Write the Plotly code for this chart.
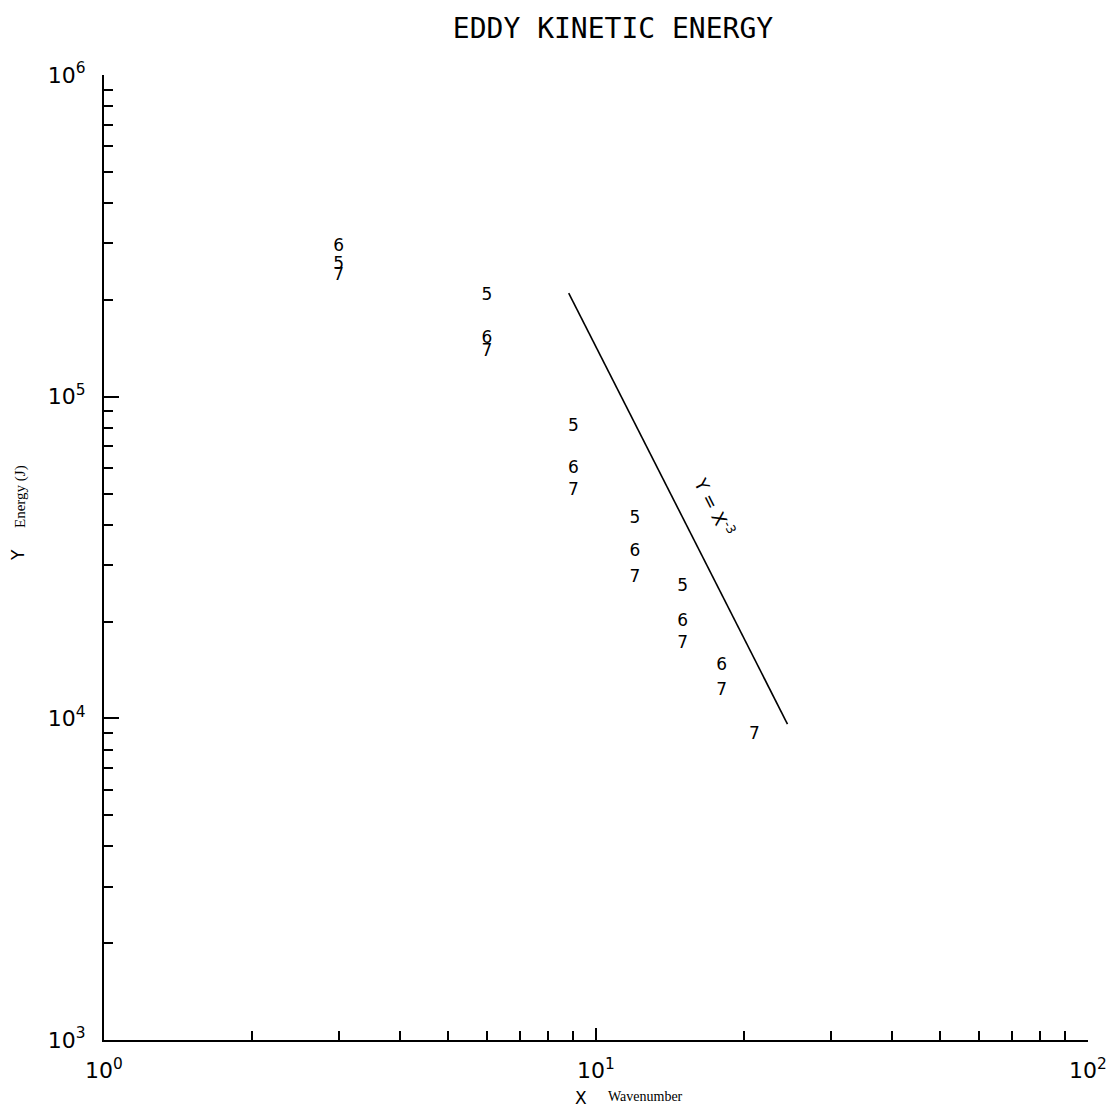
import plotly.graph_objects as go

# Wavenumbers
wavenumber = [3, 6, 9, 12, 15, 18, 21]

# Eddy kinetic energy (J) per series (label)
series_5_x = [3, 6, 9, 12, 15]
series_5_y = [2.58e5, 2.06e5, 8.05e4, 4.17e4, 2.56e4]

series_6_x = [3, 6, 9, 12, 15, 18]
series_6_y = [2.92e5, 1.51e5, 5.96e4, 3.29e4, 2.0e4, 1.46e4]

series_7_x = [3, 6, 9, 12, 15, 18, 21]
series_7_y = [2.37e5, 1.38e5, 5.09e4, 2.73e4, 1.71e4, 1.22e4, 8.88e3]

# Reference slope line Y = X^-3 (endpoints)
line_x = [8.8, 24.5]
line_y = [2.1e5, 9.6e3]

x_tickvals = [1, 10, 100]
x_ticktext = ["10<sup>0</sup>", "10<sup>1</sup>", "10<sup>2</sup>"]
y_tickvals = [1e3, 1e4, 1e5, 1e6]
y_ticktext = ["10<sup>3</sup>", "10<sup>4</sup>", "10<sup>5</sup>", "10<sup>6</sup>"]

x_minor = [m * 10 ** e for e in range(0, 2) for m in range(2, 10)]
y_minor = [m * 10 ** e for e in range(3, 6) for m in range(2, 10)]

digit_font = dict(family="DejaVu Sans", size=17, color="black")

fig = go.Figure()
for label, xs, ys in [("5", series_5_x, series_5_y),
                      ("6", series_6_x, series_6_y),
                      ("7", series_7_x, series_7_y)]:
    fig.add_trace(go.Scatter(x=xs, y=ys, mode="text", text=[label] * len(xs),
                             textposition="middle center", textfont=digit_font,
                             showlegend=False, name=label))

fig.add_trace(go.Scatter(x=line_x, y=line_y, mode="lines",
                         line=dict(color="black", width=1.6), showlegend=False))

fig.add_annotation(x=1.24, y=4.66, xref="x", yref="y", text="Y = X<sup>-3</sup>",
                   showarrow=False, textangle=63, xanchor="center", yanchor="middle",
                   font=dict(family="DejaVu Sans", size=18, color="black"))

fig.update_layout(
    width=1118, height=1110,
    margin=dict(l=104, r=30, t=75, b=70),
    plot_bgcolor="white", paper_bgcolor="white",
    title=dict(text="EDDY KINETIC ENERGY", x=613 / 1118, xanchor="center",
               y=1 - 28 / 1110, yanchor="middle",
               font=dict(family="DejaVu Sans Mono", size=28, color="black")),
    showlegend=False,
)

fig.update_xaxes(type="log", range=[0, 2], showgrid=False, zeroline=False,
                 showline=True, linecolor="black", linewidth=2, mirror=False,
                 tickmode="array", tickvals=x_tickvals, ticktext=x_ticktext,
                 ticks="inside", ticklen=12, tickwidth=1.5, tickcolor="black",
                 tickfont=dict(family="DejaVu Sans", size=22, color="black"),
                 ticklabelstandoff=10,
                 minor=dict(tickmode="array", tickvals=x_minor, ticks="inside",
                            ticklen=9, tickwidth=1.5, tickcolor="black", showgrid=False))

fig.update_yaxes(type="log", range=[3, 6], showgrid=False, zeroline=False,
                 showline=True, linecolor="black", linewidth=2, mirror=False,
                 tickmode="array", tickvals=y_tickvals, ticktext=y_ticktext,
                 ticks="inside", ticklen=15, tickwidth=1.5, tickcolor="black",
                 tickfont=dict(family="DejaVu Sans", size=22, color="black"),
                 ticklabelstandoff=12,
                 minor=dict(tickmode="array", tickvals=y_minor, ticks="inside",
                            ticklen=9, tickwidth=1.5, tickcolor="black", showgrid=False))

# Axis titles
fig.add_annotation(x=(18 - 104) / 984, y=(1040 - 555) / 965, xref="paper", yref="paper",
                   text="Y", showarrow=False, textangle=-90,
                   xanchor="center", yanchor="middle",
                   font=dict(family="DejaVu Sans", size=17, color="black"))
fig.add_annotation(x=(20 - 104) / 984, y=(1040 - 497) / 965, xref="paper", yref="paper",
                   text="Energy (J)", showarrow=False, textangle=-90,
                   xanchor="center", yanchor="middle",
                   font=dict(family="Liberation Serif", size=15, color="black"))
fig.add_annotation(x=(581 - 104) / 984, y=(1040 - 1098) / 965, xref="paper", yref="paper",
                   text="X", showarrow=False, xanchor="center", yanchor="middle",
                   font=dict(family="DejaVu Sans", size=17, color="black"))
fig.add_annotation(x=(645 - 104) / 984, y=(1040 - 1096) / 965, xref="paper", yref="paper",
                   text="Wavenumber", showarrow=False, xanchor="center", yanchor="middle",
                   font=dict(family="Liberation Serif", size=14, color="black"))

fig.write_html("out.html")
